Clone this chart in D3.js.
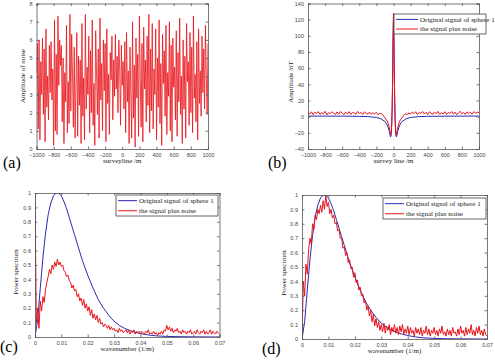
<!DOCTYPE html>
<meta charset="utf-8">
<script src="https://d3js.org/d3.v7.min.js"></script>
<style>
  body { margin: 0; background: #fff; }
  .tick text { font-family: "Liberation Sans", Arial, sans-serif; font-size: 5.5px; fill: #444; }
  .lbl { font-family: "Liberation Serif", "Times New Roman", serif; font-size: 7px; fill: #222; }
  .tag { font-family: "Liberation Serif", "Times New Roman", serif; font-size: 16px; fill: #000; }
</style>
<body>
<div id="chart"></div>
<script>
// ---- data ----
// (a) noise along the survey line, one sample every 10 m
var noiseA = [
  4.2, 5.8, 1.1, 6.0, 0.5, 4.8, 3.0, 6.1, 1.9, 5.5,
  0.4, 6.6, 2.3, 4.0, 1.6, 5.7, 3.1, 5.9, 2.7, 4.4,
  0.2, 7.1, 1.0, 5.2, 0.8, 7.3, 3.5, 6.0, 4.6, 5.7,
  1.5, 5.0, 0.3, 4.2, 2.6, 6.8, 0.9, 3.7, 1.4, 7.4,
  2.1, 6.3, 4.1, 1.2, 5.6, 0.6, 3.4, 6.4, 0.7, 5.1,
  2.4, 4.9, 0.3, 6.9, 1.8, 3.9, 0.5, 7.4, 2.2, 4.5,
  3.0, 6.2, 0.9, 5.4, 2.0, 7.1, 1.3, 3.6, 0.2, 6.5,
  4.3, 1.9, 5.5, 0.6, 7.2, 2.7, 4.7, 1.0, 6.0, 3.2,
  5.8, 0.4, 6.6, 2.5, 4.1, 0.8, 5.3, 3.8, 6.2, 1.6,
  4.9, 2.9, 6.3, 3.3, 5.1, 2.0, 6.0, 4.4, 1.3, 5.7,
  3.5,
  4.8, 2.2, 5.9, 0.9, 6.4, 2.6, 4.3, 0.3, 5.6, 3.1,
  0.6, 7.0, 1.7, 4.6, 0.1, 6.1, 2.8, 5.2, 0.7, 7.3,
  3.9, 1.2, 5.8, 0.4, 6.7, 3.3, 4.9, 1.5, 6.2, 2.4,
  7.4, 0.9, 5.5, 2.1, 6.9, 1.1, 4.4, 3.0, 6.6, 0.5,
  5.0, 2.3, 7.1, 1.4, 4.7, 0.2, 6.3, 3.6, 5.4, 1.8,
  6.8, 0.8, 4.2, 2.9, 7.0, 1.0, 5.7, 0.4, 6.1, 3.4,
  4.5, 1.6, 6.5, 0.7, 5.3, 2.6, 7.2, 1.9, 4.0, 0.3,
  6.0, 2.2, 5.1, 0.6, 6.9, 3.7, 4.8, 1.3, 6.4, 2.0,
  5.6, 0.9, 7.3, 2.8, 4.1, 1.5, 5.9, 0.5, 6.6, 2.5,
  4.3, 1.8, 6.2, 3.1, 5.5, 2.2, 6.8, 4.0, 1.9, 5.8
];

// (b) original anomaly of sphere 1
var sigX = [-1000,-800,-600,-400,-300,-200,-150,-100,-80,-60,-50,-40,-35,-30,-25,-20,-15,-10,-5,
  0, 5,10,15,20,25,30,35,40,50,60,80,100,150,200,300,400,600,800,1000];
var sigY = [0.7,0.7,0.6,0.4,0.1,-1,-2.5,-6,-9,-14,-18,-23,-25,-24,-19,-8,12,48,98,
  125, 98,48,12,-8,-19,-24,-25,-23,-18,-14,-9,-6,-2.5,-1,0.1,0.4,0.6,0.7,0.7];

// (b) signal plus noise: left flank (-1000..-160, every 20 m), centre, right flank (160..1000)
var noisyLeft = [
  5.1, 3.2, 6.0, 2.5, 5.4, 4.0, 6.3, 2.9, 4.8, 3.5,
  6.6, 2.2, 5.0, 3.8, 6.1, 4.4, 2.7, 5.9, 3.1, 6.4,
  4.2, 2.4, 5.6, 3.6, 6.2, 2.8, 5.2, 4.6, 3.0, 6.5,
  3.9, 5.3, 2.6, 6.0, 4.1, 3.3, 5.7, 2.9, 4.9, 3.4,
  5.5, 2.3, 4.3
];
var noisyMidX = [-140,-120,-100,-80,-60,-50,-40,-35,-30,-25,-20,-15,-10,-5,0,5,10,15,20,25,30,35,40,50,60,80,100,120,140];
var noisyMidY = [3.5,1.8,-1.5,-4,-9,-13,-18,-22,-23,-18,-6,14,50,100,128,100,50,14,-6,-18,-23,-22,-18,-13,-9,-4,-1.5,1.8,3.5];
var noisyRight = [
  2.8, 4.5, 3.1, 5.8, 3.7, 6.2, 2.6, 5.0, 4.1, 6.4,
  3.3, 5.5, 2.5, 6.0, 4.3, 3.0, 5.9, 3.6, 6.5, 2.9,
  4.8, 3.4, 6.1, 2.7, 5.3, 4.0, 6.3, 3.2, 5.6, 2.4,
  4.6, 6.6, 3.5, 5.1, 2.8, 6.0, 3.9, 5.4, 3.1, 6.2,
  4.4, 5.7, 4.9
];

// (c),(d) normalised power spectrum of the original signal
var specK = [0,0.001,0.002,0.003,0.004,0.005,0.006,0.007,0.008,0.009,0.010,0.011,0.012,0.013,0.014,0.015,
  0.016,0.017,0.018,0.019,0.020,0.022,0.024,0.026,0.028,0.030,0.032,0.034,0.036,0.038,0.040,0.043,0.046,
  0.050,0.055,0.060,0.065,0.070];
var specOrig = [0,0.12,0.34,0.55,0.72,0.85,0.93,0.98,1.0,1.0,0.98,0.94,0.89,0.83,0.77,0.71,
  0.65,0.59,0.53,0.48,0.43,0.34,0.26,0.2,0.15,0.11,0.08,0.06,0.045,0.033,0.024,0.014,0.008,
  0.004,0.002,0.001,0.0005,0];

// spectra of signal plus noise, one value every 0.0005 1/m
var specNoisyC = [
  1.0, 0.1, 0.2, 0.06, 0.25, 0.18, 0.28, 0.24, 0.33, 0.38,
  0.42, 0.47, 0.44, 0.5, 0.47, 0.52, 0.49, 0.54, 0.5, 0.52,
  0.49, 0.5, 0.46, 0.45, 0.42, 0.43, 0.39, 0.38, 0.34, 0.36,
  0.32, 0.33, 0.28, 0.3, 0.25, 0.27, 0.22, 0.26, 0.2, 0.23,
  0.18, 0.21, 0.15, 0.19, 0.13, 0.16, 0.12, 0.15, 0.1, 0.13,
  0.09, 0.1, 0.07, 0.09, 0.08, 0.06, 0.08, 0.05, 0.07, 0.05,
  0.06, 0.04, 0.05, 0.03, 0.06, 0.04, 0.05, 0.03, 0.04, 0.05,
  0.03, 0.05, 0.02, 0.04, 0.03, 0.05, 0.02, 0.04, 0.03, 0.04,
  0.02, 0.04, 0.03, 0.02, 0.04, 0.03, 0.05, 0.02, 0.03, 0.02,
  0.04, 0.02, 0.03, 0.01, 0.03, 0.02, 0.04, 0.02, 0.05, 0.04,
  0.08, 0.05, 0.07, 0.04, 0.06, 0.03, 0.05, 0.04, 0.06, 0.03,
  0.04, 0.02, 0.05, 0.03, 0.04, 0.02, 0.04, 0.03, 0.05, 0.02,
  0.03, 0.04, 0.02, 0.05, 0.03, 0.02, 0.04, 0.03, 0.05, 0.02,
  0.04, 0.02, 0.03, 0.05, 0.02, 0.04, 0.03, 0.02, 0.04, 0.03, 0.02
];
var specNoisyD = [
  0, 0.4, 0.3, 0.52, 0.45, 0.62, 0.7, 0.66, 0.8, 0.76,
  0.86, 0.83, 0.9, 0.87, 0.93, 0.88, 0.96, 0.9, 1.0, 0.92,
  0.95, 0.87, 0.9, 0.84, 0.86, 0.8, 0.81, 0.75, 0.76, 0.7,
  0.7, 0.63, 0.64, 0.58, 0.6, 0.53, 0.55, 0.49, 0.5, 0.43,
  0.46, 0.39, 0.41, 0.34, 0.36, 0.3, 0.31, 0.25, 0.27, 0.2,
  0.23, 0.16, 0.2, 0.12, 0.17, 0.09, 0.14, 0.08, 0.12, 0.06,
  0.1, 0.05, 0.11, 0.04, 0.09, 0.06, 0.1, 0.03, 0.08, 0.05,
  0.1, 0.04, 0.08, 0.03, 0.09, 0.05, 0.1, 0.03, 0.07, 0.04,
  0.09, 0.03, 0.08, 0.04, 0.06, 0.02, 0.08, 0.04, 0.07, 0.03,
  0.08, 0.02, 0.06, 0.04, 0.09, 0.03, 0.07, 0.02, 0.06, 0.04,
  0.08, 0.03, 0.06, 0.02, 0.07, 0.04, 0.09, 0.03, 0.05, 0.02,
  0.07, 0.03, 0.06, 0.02, 0.08, 0.04, 0.05, 0.02, 0.07, 0.03,
  0.09, 0.04, 0.06, 0.02, 0.08, 0.03, 0.07, 0.04, 0.1, 0.03,
  0.06, 0.02, 0.08, 0.04, 0.09, 0.03, 0.06, 0.02, 0.07, 0.03, 0.02
];

var legendNames = ["Original signal of sphere 1", "the signal plus noise"];
var BLUE = "#2a2ab4", RED = "#e8141a";

// ---- drawing ----
var svg = d3.select("#chart").append("svg")
  .attr("width", 495).attr("height", 360);

function pts(xs, ys) { return xs.map(function(x, i) { return [x, ys[i]]; }); }

function panel(o) {
  var g = svg.append("g");
  var x = d3.scaleLinear().domain(o.xd).range([o.x0, o.x1]);
  var y = d3.scaleLinear().domain(o.yd).range([o.y1, o.y0]);

  var clip = "clip" + o.tag.replace(/\W/g, "");
  svg.append("clipPath").attr("id", clip).append("rect")
    .attr("x", o.x0).attr("y", o.y0).attr("width", o.x1 - o.x0).attr("height", o.y1 - o.y0);

  var line = d3.line().x(function(d) { return x(d[0]); }).y(function(d) { return y(d[1]); });
  var lines = g.append("g").attr("clip-path", "url(#" + clip + ")");
  o.series.forEach(function(s) {
    lines.append("path").datum(s.data)
      .attr("fill", "none").attr("stroke", s.color).attr("stroke-width", s.w || 1)
      .attr("d", line);
  });

  // matlab style box with inward ticks on all sides
  var ax = [
    g.append("g").attr("transform", "translate(0," + o.y1 + ")")
      .call(d3.axisBottom(x).tickValues(o.xt).tickSize(-2.5).tickPadding(4).tickFormat(o.xf)),
    g.append("g").attr("transform", "translate(" + o.x0 + ",0)")
      .call(d3.axisLeft(y).tickValues(o.yt).tickSize(-2.5).tickPadding(4).tickFormat(o.yf)),
    g.append("g").attr("transform", "translate(0," + o.y0 + ")")
      .call(d3.axisTop(x).tickValues(o.xt).tickSize(-2.5).tickFormat("")),
    g.append("g").attr("transform", "translate(" + o.x1 + ",0)")
      .call(d3.axisRight(y).tickValues(o.yt).tickSize(-2.5).tickFormat(""))
  ];
  ax.forEach(function(a) {
    a.selectAll("path, line").attr("stroke", "#555").attr("stroke-width", 0.8);
  });

  g.append("text").attr("class", "lbl").attr("text-anchor", "middle")
    .attr("x", (o.x0 + o.x1) / 2).attr("y", o.y1 + 14).text(o.xlabel);
  g.append("text").attr("class", "lbl").attr("text-anchor", "middle")
    .attr("transform", "translate(" + o.ylx + "," + o.yly + ") rotate(-90)").text(o.ylabel);
  g.append("text").attr("class", "tag").attr("x", o.tx).attr("y", o.ty).text(o.tag);

  if (o.legend) {
    var L = o.legend;
    var lg = g.append("g");
    lg.append("rect").attr("x", L.x).attr("y", L.y).attr("width", L.w).attr("height", L.h)
      .attr("fill", "#fff").attr("stroke", "#444").attr("stroke-width", 0.8);
    [BLUE, RED].forEach(function(c, i) {
      var yy = L.y + L.h * (i === 0 ? 0.27 : 0.75);
      lg.append("line").attr("x1", L.x + 2).attr("x2", L.x + L.lw).attr("y1", yy).attr("y2", yy)
        .attr("stroke", c).attr("stroke-width", 1);
      lg.append("text").attr("class", "lbl").attr("x", L.x + L.lw + 2).attr("y", yy + 2.3)
        .text(legendNames[i]);
    });
  }
}

var fmtInt = d3.format("d");
var fmtK = function(d) { return d === 0 ? "0" : d3.format(".2f")(d); };
var fmtP = function(d) { return d === 0 ? "0" : (d === 1 ? "1" : d3.format(".1f")(d)); };

var gridA = d3.range(-1000, 1001, 10);
panel({
  x0: 36.5, x1: 208, y0: 3.5, y1: 149,
  xd: [-1000, 1000], yd: [0, 8],
  xt: d3.range(-1000, 1001, 200), yt: d3.range(0, 9, 1), xf: fmtInt, yf: fmtInt,
  xlabel: "surveyline /m", ylabel: "Amplitude of noise", ylx: 25, yly: 76,
  tag: "(a)", tx: 3, ty: 168,
  series: [{ data: pts(gridA, noiseA), color: RED, w: 0.8 }]
});

var noisyB = pts(d3.range(-1000, -150, 20), noisyLeft)
  .concat(pts(noisyMidX, noisyMidY))
  .concat(pts(d3.range(160, 1001, 20), noisyRight));
panel({
  x0: 308, x1: 479, y0: 3.5, y1: 149,
  xd: [-1000, 1000], yd: [-40, 140],
  xt: d3.range(-1000, 1001, 200), yt: d3.range(-40, 141, 20), xf: fmtInt, yf: fmtInt,
  xlabel: "survey line /m", ylabel: "Amplitude /nT", ylx: 293, yly: 82,
  tag: "(b)", tx: 268, ty: 168,
  legend: { x: 394, y: 14, w: 92, h: 20, lw: 24 },
  series: [{ data: pts(sigX, sigY), color: BLUE }, { data: noisyB, color: RED }]
});

var gridK = d3.range(0, 141).map(function(i) { return i * 0.0005; });
panel({
  x0: 35, x1: 219.5, y0: 193, y1: 337,
  xd: [0, 0.07], yd: [0, 1],
  xt: d3.range(0, 8).map(function(i) { return i / 100; }),
  yt: d3.range(0, 11).map(function(i) { return i / 10; }), xf: fmtK, yf: fmtP,
  xlabel: "wavenumber (1/m)", ylabel: "Power spectrum", ylx: 18, yly: 272,
  tag: "(c)", tx: 0, ty: 352,
  legend: { x: 116, y: 195, w: 102, h: 21, lw: 21 },
  series: [{ data: pts(specK, specOrig), color: BLUE }, { data: pts(gridK, specNoisyC), color: RED }]
});

panel({
  x0: 302, x1: 487, y0: 195, y1: 339,
  xd: [0, 0.07], yd: [0, 1],
  xt: d3.range(0, 8).map(function(i) { return i / 100; }),
  yt: d3.range(0, 11).map(function(i) { return i / 10; }), xf: fmtK, yf: fmtP,
  xlabel: "wavenumber (1/m)", ylabel: "Power spectrum", ylx: 286, yly: 273,
  tag: "(d)", tx: 262, ty: 354,
  legend: { x: 383, y: 198, w: 103, h: 21, lw: 21 },
  series: [{ data: pts(specK, specOrig), color: BLUE }, { data: pts(gridK, specNoisyD), color: RED }]
});
</script>
</body>
